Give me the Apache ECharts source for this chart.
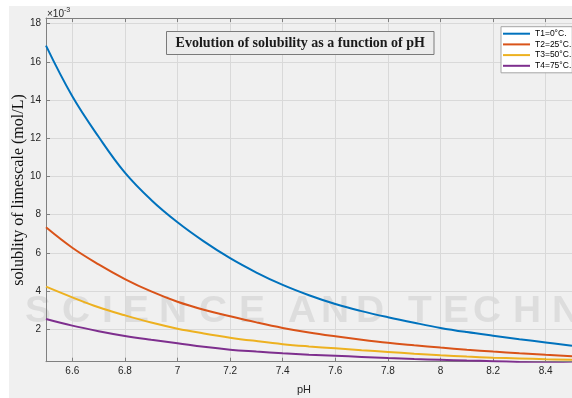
<!DOCTYPE html>
<html>
<head>
<meta charset="utf-8">
<script src="https://cdn.jsdelivr.net/npm/echarts@6/dist/echarts.min.js"></script>
<style>
html,body{margin:0;padding:0;background:#ffffff;}
#c{width:572px;height:398px;}
</style>
</head>
<body>
<div id="c"></div>
<script>
// pH values (x)
var pH = [6.5, 6.6, 6.7, 6.8, 6.9, 7.0, 7.1, 7.2, 7.3, 7.4, 7.5, 7.6, 7.7, 7.8, 7.9, 8.0, 8.1, 8.2, 8.3, 8.4, 8.5];
// solubility (x10^-3 mol/L)
var T1 = [16.85, 14.2, 12.08, 10.2, 8.77, 7.6, 6.6, 5.72, 4.97, 4.32, 3.78, 3.32, 2.95, 2.63, 2.34, 2.07, 1.85, 1.66, 1.48, 1.31, 1.13];
var T2 = [7.34, 6.27, 5.4, 4.63, 3.98, 3.44, 3.02, 2.68, 2.36, 2.07, 1.83, 1.63, 1.45, 1.29, 1.16, 1.04, 0.93, 0.83, 0.74, 0.66, 0.59];
var T3 = [4.23, 3.67, 3.15, 2.73, 2.35, 2.03, 1.78, 1.56, 1.38, 1.22, 1.10, 1.0, 0.90, 0.81, 0.72, 0.64, 0.57, 0.51, 0.47, 0.43, 0.40];
var T4 = [2.54, 2.19, 1.9, 1.65, 1.45, 1.27, 1.08, 0.93, 0.83, 0.74, 0.67, 0.61, 0.55, 0.49, 0.44, 0.40, 0.36, 0.33, 0.28, 0.25, 0.22];
var seriesNames = ['T1=0°C.', 'T2=25°C.', 'T3=50°C.', 'T4=75°C.'];
var xTicks = [6.6, 6.8, 7.0, 7.2, 7.4, 7.6, 7.8, 8.0, 8.2, 8.4];
var yTicks = [2, 4, 6, 8, 10, 12, 14, 16, 18];
var colors = ['#0072BD', '#D95319', '#EDB120', '#7E2F8E'];
var titleText = 'Evolution of solubility as a function of pH';
var yName = 'solublity of limescale (mol/L)';
var xName = 'pH';
// watermark letters (decoration)
var wmLetters = ['S','C','I','E','N','C','E','A','N','D','T','E','C','H','N'];
var wmLeft = [25, 62, 102, 123, 159, 199, 239, 288, 321, 356, 408, 443, 473, 513, 552];

function pairs(arr) { return pH.map(function (x, i) { return [x, arr[i]]; }); }

var chart = echarts.init(document.getElementById('c'), null, {renderer: 'canvas'});
var axisCol = '#808080';
var labelFont = {color: '#262626', fontSize: 10, fontFamily: 'Liberation Sans, Arial, sans-serif'};

function xAxisDef(pos, showLabel) {
  return {
    type: 'value', position: pos, min: 6.5, max: 8.5,
    axisLine: {show: true, lineStyle: {color: axisCol, width: 1}},
    axisTick: {show: true, inside: true, length: 4, customValues: xTicks, lineStyle: {color: axisCol}},
    axisLabel: Object.assign({show: showLabel, margin: 5, customValues: xTicks}, labelFont),
    splitLine: {show: pos === 'bottom', lineStyle: {color: '#d9d9d9', width: 1}}
  };
}
function yAxisDef(pos, showLabel) {
  return {
    type: 'value', position: pos, min: 0.3, max: 18.3,
    axisLine: {show: true, lineStyle: {color: axisCol, width: 1}},
    axisTick: {show: true, inside: true, length: 4, customValues: yTicks, lineStyle: {color: axisCol}},
    axisLabel: Object.assign({show: showLabel, margin: 5, customValues: yTicks}, labelFont),
    splitLine: {show: pos === 'left', lineStyle: {color: '#d9d9d9', width: 1}}
  };
}

var series = [T1, T2, T3, T4].map(function (arr, i) {
  return {
    name: seriesNames[i], type: 'line', data: pairs(arr),
    smooth: 0.4, showSymbol: false, symbol: 'none',
    lineStyle: {color: colors[i], width: 2}, itemStyle: {color: colors[i]},
    clip: true, z: 3
  };
});

var graphics = [
  {type: 'rect', z: -10, silent: true, shape: {x: 9, y: 6, width: 563, height: 392}, style: {fill: '#f0f0f0'}}
];
wmLetters.forEach(function (ch, i) {
  graphics.push({type: 'text', z: 0, silent: true, x: wmLeft[i], y: 312, scaleX: 1.08,
    style: {text: ch, verticalAlign: 'middle', fill: '#dddddd', fontSize: 36, fontWeight: 'bold', fontFamily: 'Liberation Sans, Arial, sans-serif'}});
});
graphics = graphics.concat([
  {type: 'rect', z: 20, silent: true, shape: {x: 166.5, y: 31.5, width: 267.5, height: 23}, style: {fill: '#ececec', stroke: '#7a7a7a', lineWidth: 1}},
  {type: 'text', z: 21, silent: true, x: 300.25, y: 43.5, style: {text: titleText, align: 'center', verticalAlign: 'middle', fill: '#1a1a1a', fontSize: 14, fontWeight: 'bold', fontFamily: 'Liberation Serif, Times New Roman, serif'}},
  {type: 'text', z: 21, silent: true, x: 18.5, y: 190, rotation: Math.PI / 2, style: {text: yName, align: 'center', verticalAlign: 'middle', fill: '#111111', fontSize: 16, fontFamily: 'Liberation Serif, Times New Roman, serif'}},
  {type: 'text', z: 21, silent: true, x: 304, y: 390, style: {text: xName, align: 'center', verticalAlign: 'middle', fill: '#262626', fontSize: 11, fontFamily: 'Liberation Sans, Arial, sans-serif'}},
  {type: 'text', z: 21, silent: true, x: 47, y: 13, style: {text: '{a|×10}{b|-3}', verticalAlign: 'middle', rich: {a: {fontSize: 10, fill: '#262626', fontFamily: 'Liberation Sans, Arial, sans-serif', verticalAlign: 'bottom'}, b: {fontSize: 7, fill: '#262626', fontFamily: 'Liberation Sans, Arial, sans-serif', verticalAlign: 'top', padding: [0, 0, 5, 0]}}}}
]);

chart.setOption({
  animation: false,
  backgroundColor: '#ffffff',
  grid: {left: 46, right: -4.6, top: 18, bottom: 36.3, show: true, backgroundColor: '#f0f0f0', borderWidth: 0},
  xAxis: [xAxisDef('bottom', true), xAxisDef('top', false)],
  yAxis: [yAxisDef('left', true)],
  legend: {
    data: seriesNames, orient: 'vertical', left: 501, top: 26.7,
    backgroundColor: '#ffffff', borderColor: '#a6a6a6', borderWidth: 1, borderRadius: 0,
    padding: [2, 1, 2, 2], itemGap: 0.7, itemWidth: 27, itemHeight: 2, itemTextGap: 2,
    icon: 'rect',
    textStyle: {color: '#000000', fontSize: 8.5, lineHeight: 10, fontFamily: 'Liberation Sans, Arial, sans-serif'}
  },
  graphic: graphics,
  series: series
});
</script>
</body>
</html>
